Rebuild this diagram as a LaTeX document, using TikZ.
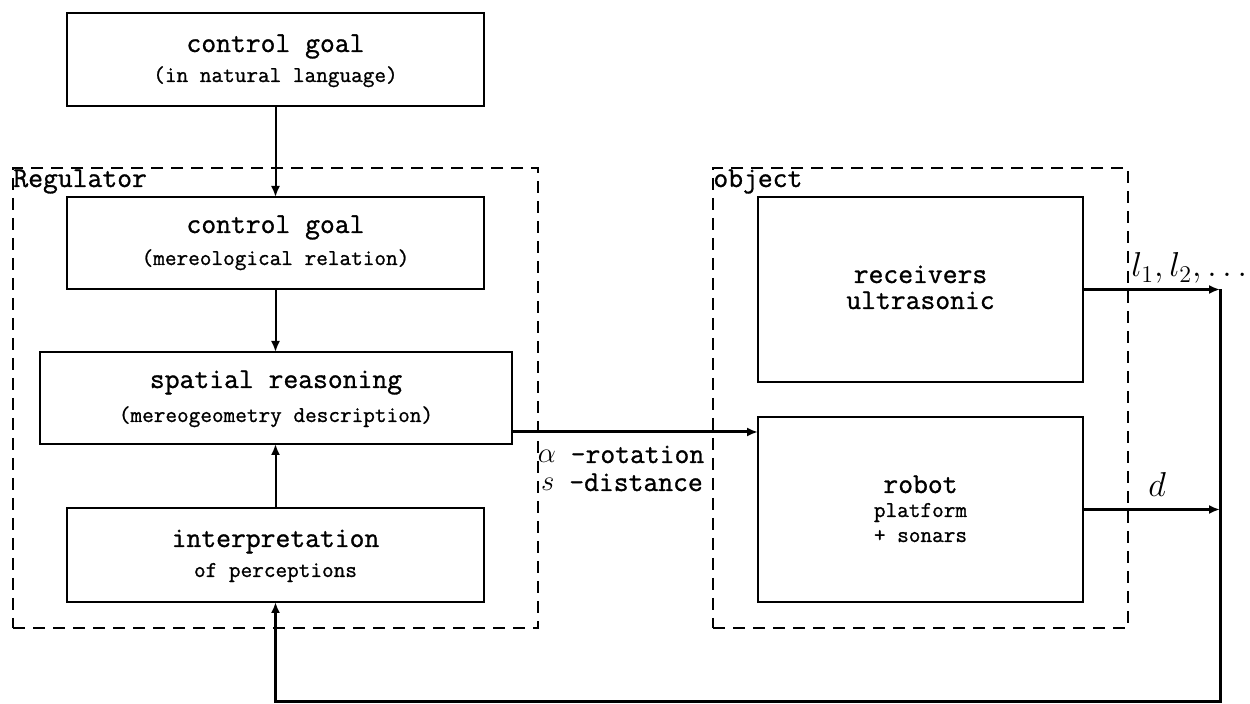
\documentclass[tikz,border=0pt]{standalone}
\usepackage{fontspec}
\setmonofont{Latin Modern Mono}[FakeBold=1.0]
\usetikzlibrary{arrows.meta}
\newcommand{\bigtt}{\ttfamily\fontsize{14.4}{16}\selectfont}
\newcommand{\smalltt}{\ttfamily\fontsize{11.3}{13}\selectfont}
\begin{document}
\begin{tikzpicture}[x=0.5pt,y=-0.5pt,
  box/.style={draw, line width=1pt, inner sep=0pt, outer sep=0pt},
  frame/.style={draw, line width=0.9pt, dash pattern=on 6pt off 4pt, inner sep=0pt, outer sep=0pt},
  ttl/.style={font=\bigtt, anchor=base, inner sep=0pt},
  sub/.style={font=\smalltt, anchor=base, inner sep=0pt},
  lbl/.style={font=\bigtt, inner sep=0pt},
  arr/.style={-{Latex[length=5.5pt,width=4.5pt]}, line width=1pt},
  thickarr/.style={-{Latex[length=5.5pt,width=4.5pt]}, line width=1.5pt}]
\useasboundingbox[fill=white] (0,0) rectangle (1250,704);

% dashed frames
\node[frame, minimum width=262.5pt, minimum height=230pt] (reg) at (275.5,398) {};
\node[frame, minimum width=207.5pt, minimum height=230pt] (obj) at (920.5,398) {};
\node[lbl, anchor=base west] (reglbl) at (13,187) {Regulator};
\node[lbl, anchor=base west] (objlbl) at (713,187) {object};

% boxes
\node[box, minimum width=208.5pt, minimum height=46.5pt] (goal0) at (275.5,59.5) {};
\node[box, minimum width=208.5pt, minimum height=46pt] (goal1) at (275.5,243) {};
\node[box, minimum width=236pt, minimum height=46pt] (spat) at (276,398) {};
\node[box, minimum width=208.5pt, minimum height=47pt] (interp) at (275.5,555) {};
\node[box, minimum width=162.5pt, minimum height=92.5pt] (recv) at (920.5,289.5) {};
\node[box, minimum width=162.5pt, minimum height=92.5pt] (robot) at (920.5,509.5) {};

% texts
\node[ttl] (t0a) at (275.5,52) {control goal};
\node[sub] (t0b) at (275.5,82) {(in natural language)};
\node[ttl] (t1a) at (275.5,233) {control goal};
\node[sub] (t1b) at (275.5,265) {(mereological relation)};
\node[ttl] (t2a) at (276,388) {spatial reasoning};
\node[sub] (t2b) at (276,422) {(mereogeometry description)};
\node[ttl] (t3a) at (275.5,547) {interpretation};
\node[sub] (t3b) at (275.5,577) {of perceptions};
\node[ttl] (t4a) at (920.5,283) {receivers};
\node[ttl] (t4b) at (920.5,309) {ultrasonic};
\node[ttl] (t5a) at (920.5,493) {robot};
\node[sub] (t5b) at (920.5,517) {platform};
\node[sub] (t5c) at (920.5,542) {+ sonars};

% labels on connectors
\node[lbl, anchor=base] (alab) at (621,463) {$\alpha$ -rotation};
\node[lbl, anchor=base] (slab) at (622,491) {$s$ -distance};
\node[lbl, anchor=base west, font=\fontsize{16.5}{18}\selectfont] (llab) at (1131,277) {$l_1,l_2,\ldots$};
\node[lbl, anchor=base west, font=\fontsize{16}{18}\selectfont] (dlab) at (1148,497) {$d$};

% connectors
\coordinate (mid) at (600,432);
\coordinate (rail) at (1220,702);
\draw[arr] (goal0.south) -- (goal0.south |- goal1.north);
\draw[arr] (goal1.south) -- (goal1.south |- spat.north);
\draw[arr] (interp.north) -- (interp.north |- spat.south);
\draw[thickarr] (spat.east |- mid) -- (robot.west |- mid);
\draw[thickarr] (recv.east) -- (recv.east -| rail);
\draw[thickarr] (robot.east) -- (robot.east -| rail);
\draw[thickarr] (recv.east -| rail) -- (rail) -- (rail -| interp.south) -- (interp.south);
\end{tikzpicture}
\end{document}
